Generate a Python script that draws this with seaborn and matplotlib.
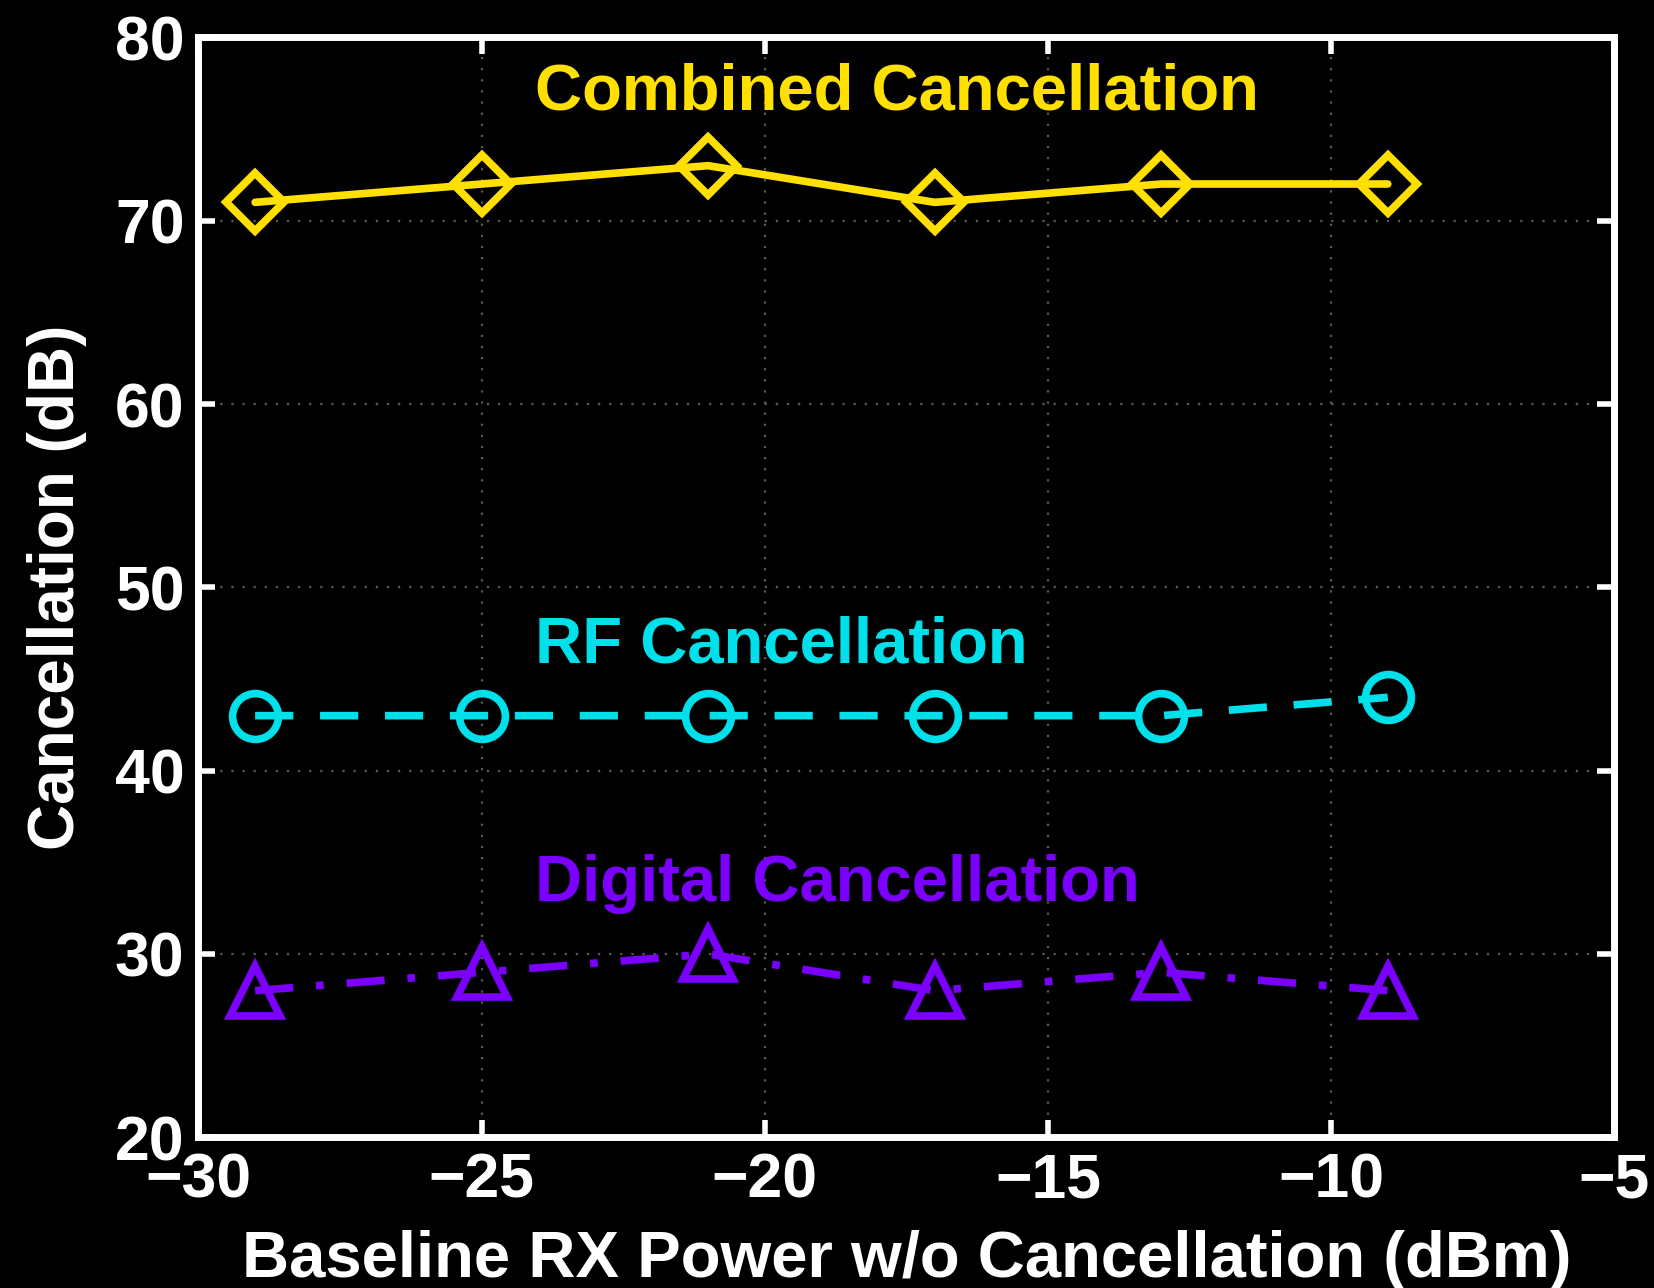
import matplotlib
matplotlib.use("Agg")
import matplotlib.pyplot as plt
import seaborn as sns
import pandas as pd

# Measured cancellation versus baseline received power
rx_power = [-29, -25, -21, -17, -13, -9]
combined = [71, 72, 73, 71, 72, 72]
rf = [43, 43, 43, 43, 43, 44]
digital = [28, 29, 30, 28, 29, 28]

x_ticks = [-30, -25, -20, -15, -10, -5]
y_ticks = [20, 30, 40, 50, 60, 70, 80]

sns.set_theme(style="dark")
plt.rcParams["font.family"] = ["Liberation Sans", "DejaVu Sans"]
plt.rcParams["font.weight"] = "bold"

fig = plt.figure(figsize=(16.54, 12.88), dpi=100, facecolor="black")
ax = fig.add_axes([0.120, 0.117, 0.856, 0.854])
ax.set_facecolor("black")

yellow = "#FFE000"
cyan = "#00E0EA"
purple = "#7B00FF"

df = pd.DataFrame({"x": rx_power, "combined": combined, "rf": rf, "digital": digital})

sns.lineplot(data=df, x="x", y="combined", ax=ax, color=yellow, linewidth=5.5,
             linestyle="-", marker="D", markersize=30, markerfacecolor="none",
             markeredgecolor=yellow, markeredgewidth=5.5)
sns.lineplot(data=df, x="x", y="rf", ax=ax, color=cyan, linewidth=5.5,
             linestyle=(0, (5, 3.5)), marker="o", markersize=33, markerfacecolor="none",
             markeredgecolor=cyan, markeredgewidth=5.5)
sns.lineplot(data=df, x="x", y="digital", ax=ax, color=purple, linewidth=5.5,
             linestyle=(0, (5, 3, 1, 3)), marker="^", markersize=36, markerfacecolor="none",
             markeredgecolor=purple, markeredgewidth=5.5)

ax.text(-24.05, 77.0, "Combined Cancellation", color=yellow, fontsize=47,
        fontweight="bold", ha="left", va="center")
ax.text(-24.05, 46.8, "RF Cancellation", color=cyan, fontsize=47,
        fontweight="bold", ha="left", va="center")
ax.text(-24.05, 33.8, "Digital Cancellation", color=purple, fontsize=47,
        fontweight="bold", ha="left", va="center")

ax.set_xlim(-30, -5)
ax.set_ylim(20, 80)
ax.set_xticks(x_ticks)
ax.set_yticks(y_ticks)
ax.set_xticklabels([f"\u2212{abs(v)}" for v in x_ticks])
ax.set_yticklabels([str(v) for v in y_ticks])

ax.grid(True, color="#5a5a5a", linestyle=(0, (1, 4)), linewidth=1.6)
for side in ["left", "right", "top", "bottom"]:
    ax.spines[side].set_visible(True)
    ax.spines[side].set_color("white")
    ax.spines[side].set_linewidth(5)

ax.tick_params(axis="both", which="major", direction="in", length=12, width=4,
               color="white", labelcolor="white", labelsize=45,
               top=True, right=True, bottom=True, left=True)
ax.tick_params(axis="x", pad=10)
ax.tick_params(axis="y", pad=10)
for lbl in ax.get_xticklabels() + ax.get_yticklabels():
    lbl.set_fontweight("bold")

ax.set_xlabel("Baseline RX Power w/o Cancellation (dBm)", color="white",
              fontsize=47, fontweight="bold", labelpad=14)
ax.set_ylabel("Cancellation (dB)", color="white", fontsize=46,
              fontweight="bold", labelpad=20)

fig.savefig("out.png", dpi=100, facecolor="black")
